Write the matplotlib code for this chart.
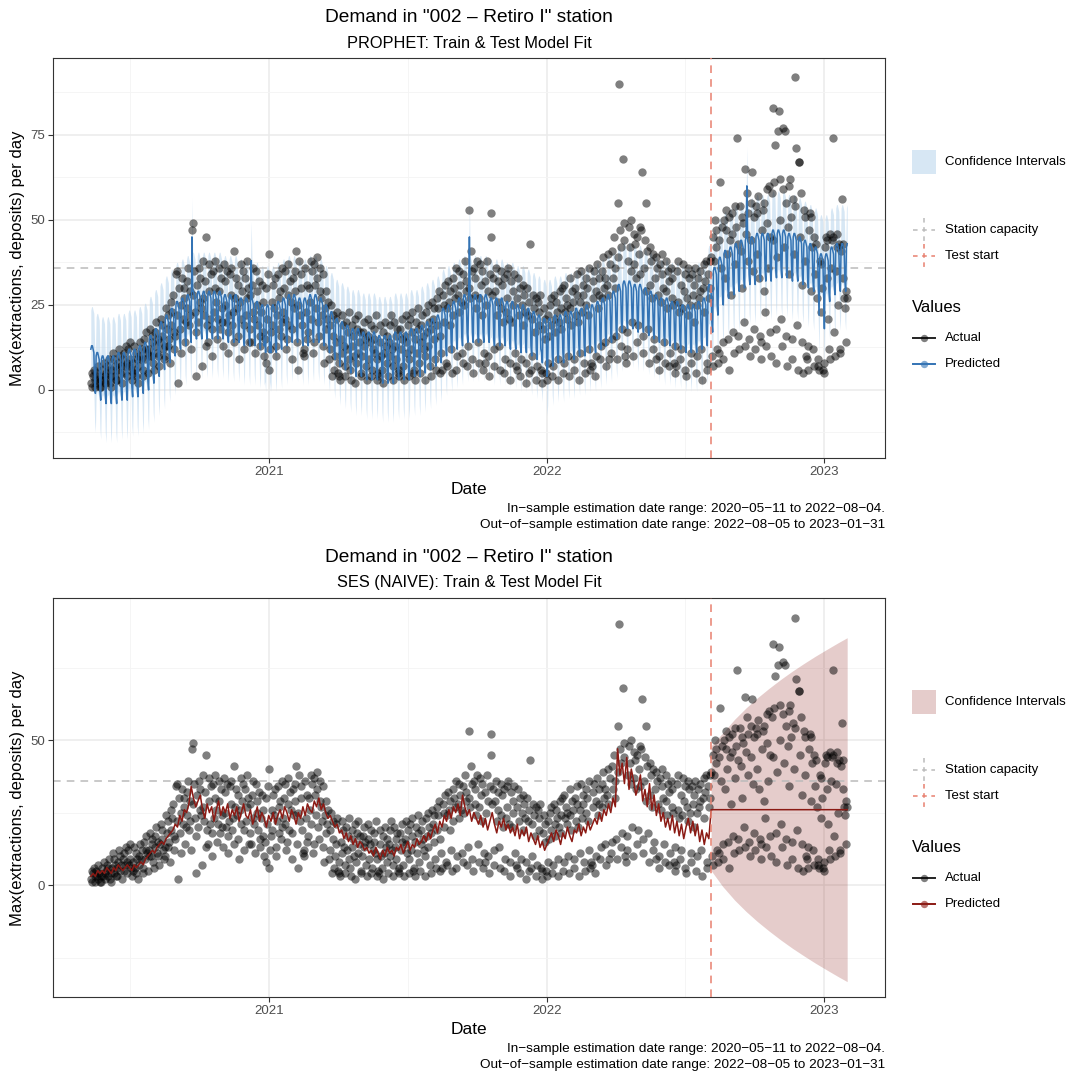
import numpy as np
import pandas as pd
import matplotlib
matplotlib.use("Agg")
import matplotlib.pyplot as plt
import matplotlib.dates as mdates
from matplotlib.patches import Rectangle

plt.rcParams['font.family'] = ['Liberation Sans', 'DejaVu Sans']

# ---------------- data ----------------
START = "2020-05-11"
END = "2023-01-31"
TEST_START = "2022-08-05"
STATION_CAPACITY = 36

# daily actual demand, weeks Mon..Sun starting 2020-05-11
actual_2020 = [
    2, 5, 1, 4, 6, 3, 1,
    5, 3, 7, 2, 4, 1, 3,
    1, 6, 3, 8, 4, 2, 5,
    7, 3, 6, 9, 2, 4, 1,
    6, 11, 4, 9, 7, 3, 6,
    3, 8, 12, 5, 10, 7, 2,
    9, 5, 11, 7, 13, 4, 8,
    12, 7, 9, 14, 6, 3, 5,
    8, 13, 6, 4, 11, 9, 2,
    10, 7, 14, 9, 12, 6, 4,
    15, 9, 12, 17, 11, 5, 10,
    12, 18, 10, 14, 16, 8, 6,
    17, 13, 20, 11, 15, 10, 7,
    14, 21, 16, 19, 12, 9, 13,
    10, 24, 18, 13, 22, 15, 8,
    26, 19, 23, 28, 17, 12, 16,
    34, 22, 35, 2, 30, 18, 11,
    25, 33, 21, 30, 27, 14, 20,
    32, 24, 36, 19, 29, 22, 12,
    47, 49, 28, 35, 23, 17, 4,
    31, 20, 36, 26, 33, 24, 7,
    27, 38, 22, 32, 45, 13, 19,
    14, 29, 37, 21, 34, 18, 10,
    35, 23, 30, 38, 26, 15, 21,
    29, 36, 18, 33, 24, 20, 13,
    37, 25, 32, 20, 35, 11, 17,
    22, 34, 28, 36, 19, 23, 14,
    41, 27, 33, 24, 31, 16, 9,
    26, 37, 21, 29, 35, 19, 12,
    33, 22, 38, 27, 30, 14, 18,
    28, 14, 31, 36, 23, 21, 11,
    35, 25, 29, 19, 32, 13, 16,
    23, 31, 26, 17, 10, 15, 8,
    30, 21, 34, 40, 6, 12, 17,
]
actual_2021 = [
    26, 19, 31, 24, 33, 13, 10,
    22, 34, 27, 18, 29, 16, 20,
    36, 23, 30, 35, 21, 12, 15,
    28, 37, 19, 32, 26, 18, 9,
    33, 24, 35, 29, 41, 14, 6,
    25, 38, 22, 34, 30, 19, 11,
    12, 10, 36, 23, 31, 15, 17,
    30, 26, 38, 21, 35, 11, 14,
    37, 31, 24, 33, 39, 20, 16,
    29, 36, 27, 22, 34, 13, 8,
    24, 18, 29, 21, 26, 9, 12,
    19, 25, 4, 16, 22, 6, 10,
    21, 14, 23, 5, 4, 8, 3,
    15, 22, 11, 19, 13, 4, 7,
    20, 12, 17, 23, 9, 6, 3,
    13, 19, 16, 10, 21, 2, 8,
    18, 11, 22, 14, 17, 5, 4,
    10, 17, 13, 20, 15, 7, 3,
    16, 21, 9, 14, 19, 4, 6,
    12, 15, 18, 11, 22, 3, 9,
    5, 4, 14, 19, 10, 6, 2,
    17, 11, 20, 13, 16, 8, 4,
    14, 19, 10, 22, 12, 3, 7,
    20, 13, 16, 9, 18, 5, 6,
    4, 18, 12, 21, 15, 7, 3,
    16, 22, 14, 11, 19, 4, 9,
    21, 12, 17, 23, 5, 6, 3,
    15, 20, 11, 18, 24, 8, 5,
    19, 14, 22, 16, 12, 3, 10,
    23, 17, 13, 25, 20, 7, 4,
    18, 26, 21, 15, 24, 9, 6,
    27, 19, 24, 29, 16, 5, 11,
    6, 28, 20, 25, 31, 8, 7,
    24, 32, 26, 19, 29, 12, 5,
    33, 22, 30, 27, 36, 6, 10,
    28, 35, 23, 31, 26, 11, 8,
    34, 25, 38, 29, 32, 7, 13,
    30, 53, 27, 41, 35, 9, 5,
    36, 28, 33, 24, 38, 14, 8,
    27, 37, 31, 35, 22, 6, 11,
    8, 32, 25, 38, 29, 10, 4,
    34, 52, 45, 28, 33, 7, 12,
    29, 36, 22, 32, 26, 13, 6,
    35, 24, 31, 20, 33, 5, 9,
    23, 34, 27, 36, 21, 8, 3,
    32, 20, 29, 25, 34, 11, 7,
    6, 27, 33, 22, 30, 4, 9,
    25, 31, 19, 28, 23, 8, 2,
    30, 22, 5, 26, 43, 6, 10,
    21, 28, 24, 17, 27, 3, 7,
    26, 19, 23, 28, 6, 5, 2,
    18, 24, 15, 21, 5, 3, 8,
]
actual_2022 = [
    22, 16, 25, 19, 27, 4, 7,
    28, 21, 17, 26, 23, 9, 3,
    20, 29, 24, 18, 30, 5, 8,
    31, 23, 27, 21, 25, 10, 4,
    24, 33, 19, 29, 26, 6, 9,
    30, 22, 28, 34, 20, 3, 11,
    26, 35, 23, 31, 28, 8, 5,
    33, 25, 30, 22, 36, 12, 6,
    8, 7, 32, 27, 35, 4, 10,
    29, 37, 24, 33, 28, 9, 13,
    35, 27, 39, 30, 33, 14, 7,
    31, 40, 28, 9, 37, 11, 15,
    41, 33, 45, 36, 30, 16, 9,
    55, 39, 90, 47, 42, 13, 18,
    68, 44, 49, 10, 8, 17, 12,
    38, 48, 42, 50, 35, 20, 10,
    46, 37, 43, 33, 45, 14, 19,
    40, 48, 34, 47, 64, 11, 16,
    36, 44, 29, 55, 41, 18, 8,
    42, 31, 38, 27, 40, 12, 15,
    33, 39, 9, 36, 28, 10, 6,
    37, 26, 34, 40, 30, 14, 8,
    29, 38, 24, 35, 32, 7, 11,
    36, 27, 33, 25, 8, 13, 5,
    7, 35, 26, 38, 23, 9, 12,
    31, 24, 37, 29, 34, 6, 4,
    27, 36, 22, 33, 25, 11, 8,
    34, 28, 31, 20, 36, 5, 10,
    25, 33, 27, 35, 29, 12, 3,
    30, 37, 23, 32, 38, 8, 6,
    34, 27, 38, 30, 39, 10, 7,
    45, 38, 50, 42, 47, 12, 8,
    11, 44, 61, 36, 48, 14, 9,
    50, 33, 47, 53, 40, 15, 6,
    51, 44, 28, 52, 46, 17, 11,
    37, 54, 48, 74, 43, 16, 12,
    54, 41, 51, 30, 49, 20, 13,
    65, 46, 58, 52, 38, 15, 10,
    44, 55, 64, 35, 51, 18, 12,
    54, 40, 52, 57, 33, 16, 9,
    14, 47, 53, 29, 55, 23, 13,
    49, 59, 36, 60, 45, 17, 10,
    58, 83, 44, 61, 72, 18, 8,
    39, 76, 82, 50, 62, 21, 13,
    59, 77, 42, 76, 55, 16, 7,
    48, 60, 34, 62, 51, 15, 9,
    56, 40, 54, 92, 71, 19, 6,
    67, 67, 45, 58, 31, 14, 5,
    53, 38, 51, 10, 9, 13, 6,
    47, 52, 29, 51, 42, 12, 7,
    45, 34, 43, 27, 9, 7, 6,
    38, 23, 37, 30, 6, 5, 8,
]
actual_2023 = [
    42, 45, 33, 44, 21, 12, 9,
    46, 36, 44, 74, 45, 17, 10,
    35, 46, 42, 25, 43, 12, 11,
    41, 56, 33, 43, 27, 24, 14,
    29, 27,
]

# PROPHET fit: weekly trend level, day-of-week effect (Mon..Sun), holiday effects
prophet_weekly_level = [
    11, 9, 8, 8, 8, 9, 9, 10, 10,
    11, 12, 14, 16, 18, 20,
    22, 24, 25, 26, 27,
    27, 27, 27, 27, 27, 26, 26, 26, 25, 25, 25, 24, 23, 23,
    23, 24, 25, 26, 26, 25, 25, 26, 26, 25,
    23, 21, 19, 18, 17, 16, 16,
    15, 15, 15, 14, 14, 14, 15, 15, 15, 16, 16, 17,
    18, 19, 20, 22, 23, 24, 25, 26,
    26, 26, 26, 26, 25, 25, 25, 24, 24, 23, 23, 22, 21, 20, 19,
    19, 20, 20, 21, 21, 22, 22, 23, 23, 24, 25, 26, 27,
    29, 30, 30, 29, 29,
    28, 27, 26, 25, 25, 24, 24, 23, 23, 23, 24, 25,
    29, 34, 37, 39, 40, 41, 42, 43, 43, 44, 44, 44, 45, 45, 45, 44,
    44, 43, 42, 41, 40, 38, 38, 40, 41, 41, 41,
]
prophet_dow_effect = [1, 2, 2, 1, 0, -9, -12]
prophet_holiday_dates = ["2020-09-21", "2020-12-08", "2020-12-25", "2021-01-01",
                         "2021-09-21", "2021-12-24", "2022-01-01", "2022-09-21",
                         "2022-12-25", "2023-01-01"]
prophet_holiday_effect = [17, 11, -10, -12, 17, -8, -6, 15, -6, -8]
prophet_ci_half = 11.5

# SES (naive) in-sample fit, every 3rd day from 2020-05-11
ses_fit = [
    3, 4, 3, 5, 4, 5, 4, 6, 5, 4, 6, 5, 7, 6, 5, 6, 7, 6, 5, 7, 6,
    7, 8, 7, 9, 10, 11, 12, 11, 13, 14, 15, 14, 16, 17, 18,
    19, 21, 20, 24, 22, 26, 25, 28, 34, 30, 27, 29, 31,
    26, 23, 28, 25, 27, 22, 26, 29, 24, 27, 25, 28, 23, 26, 24, 27, 22, 25, 28, 24,
    23, 26, 21, 24, 27, 22, 25, 23, 20, 24,
    22, 25, 21, 24, 26, 23, 27, 25, 22, 26, 24, 21, 25, 23, 27, 24, 28, 26, 25, 29,
    27, 30, 26, 28, 25, 23, 24,
    22, 20, 21, 18, 19, 16, 18, 15, 17, 14, 16, 13, 15, 14, 12,
    13, 11, 12, 10, 13, 11, 9, 12, 10, 13, 11, 12, 10, 13, 12, 14, 11, 13, 15, 12,
    14, 13, 16, 14, 15,
    17, 15, 18, 16, 19, 21, 18, 22, 20, 24, 22, 26, 23, 27, 25, 28, 24, 31,
    27, 24, 26, 22, 25, 23, 21, 24, 20, 23, 19, 22, 25, 21, 18, 22, 20, 23, 19,
    21, 18, 20, 17, 21, 16, 19, 17, 20, 15, 18, 16, 14, 17, 13, 15, 12, 14,
    16, 18, 15, 19, 17, 14, 18, 16, 20, 17, 15, 19, 18, 21, 17, 20, 18, 22, 19, 21,
    23, 21, 25, 22, 26, 24, 28, 25, 30, 27,
    47, 38, 42, 35, 44, 33, 40, 36, 31, 34,
    38, 29, 33, 27, 35, 26, 31, 24, 28, 22,
    25, 20, 23, 19, 24, 18, 22, 17, 21, 16, 20, 23, 18, 22, 17, 21, 15, 19, 14, 18, 16,
]
ses_forecast = 26
ses_ci_dates = ["2022-08-05", "2022-08-20", "2022-09-05", "2022-09-20", "2022-10-05",
                "2022-10-20", "2022-11-05", "2022-11-20", "2022-12-05", "2022-12-20",
                "2023-01-05", "2023-01-20", "2023-01-31"]
ses_ci_upper = [48, 52.4, 57.2, 61.1, 64.6, 67.8, 71.0, 73.8, 76.4, 78.9, 81.4, 83.7, 85.3]
ses_ci_lower = [5, -0.4, -5.2, -9.1, -12.6, -15.8, -19.0, -21.8, -24.4, -26.9, -29.4, -31.7, -33.3]

# ---------------- derived series ----------------
actual = actual_2020 + actual_2021 + actual_2022 + actual_2023
dates = pd.date_range(START, periods=len(actual), freq="D")
wk = np.arange(len(actual)) // 7
pred = np.array(prophet_weekly_level, float)[wk] + np.array(prophet_dow_effect, float)[dates.dayofweek]
hol = pd.Series(0.0, index=dates)
for hd, he in zip(prophet_holiday_dates, prophet_holiday_effect):
    hol[pd.Timestamp(hd)] += he
pred = pred + hol.values

ses_dates = pd.date_range(START, periods=len(ses_fit), freq="3D")
ses_line_x = list(ses_dates) + [pd.Timestamp(TEST_START), pd.Timestamp(END)]
ses_line_y = list(ses_fit) + [ses_forecast, ses_forecast]
ci_d = pd.to_datetime(ses_ci_dates)

# ---------------- figure ----------------
W, H = 1070, 1074
fig = plt.figure(figsize=(W / 100, H / 100), dpi=100)

def rect(l, t, r, b):
    return [l / W, 1 - b / H, (r - l) / W, (b - t) / H]

span = (pd.Timestamp(END) - pd.Timestamp(START)) * 0.05
xmin = mdates.date2num(pd.Timestamp(START) - span)
xmax = mdates.date2num(pd.Timestamp(END) + span)
year_ticks = [mdates.date2num(pd.Timestamp(y)) for y in ["2021-01-01", "2022-01-01", "2023-01-01"]]
minor_x = [mdates.date2num(pd.Timestamp(y)) for y in ["2020-07-02", "2021-07-02", "2022-07-02"]]

GRID_MAJ = '#EBEBEB'
GRID_MIN = '#F4F4F4'

def setup(ax, ylim, ymaj, ymin):
    ax.set_xlim(xmin, xmax)
    ax.set_ylim(*ylim)
    ax.set_xticks(year_ticks)
    ax.set_xticklabels(["2021", "2022", "2023"])
    ax.set_xticks(minor_x, minor=True)
    ax.set_yticks(ymaj)
    ax.set_yticklabels([str(v) for v in ymaj])
    ax.set_yticks(ymin, minor=True)
    ax.grid(which='major', color=GRID_MAJ, lw=1.1)
    ax.grid(which='minor', color=GRID_MIN, lw=0.6)
    ax.set_axisbelow(True)
    ax.tick_params(which='major', length=3.6, width=0.8, color='#333333',
                   labelcolor='#4D4D4D', labelsize=9.5, pad=2)
    ax.tick_params(which='minor', length=0)
    for s in ax.spines.values():
        s.set_color('#333333')
        s.set_linewidth(0.8)

BLUE = '#3373B4'
RED = '#8B1A14'
TEST_C = '#E8806F'
CAP_C = '#BBBBBB'
PT_S = 36

# ---- top panel: PROPHET ----
ax1 = fig.add_axes(rect(53, 58, 885, 458))
setup(ax1, (-20, 97.6), [0, 25, 50, 75], [-12.5, 12.5, 37.5, 62.5, 87.5])
ax1.fill_between(dates, pred - prophet_ci_half, pred + prophet_ci_half,
                 color='#BDD7EE', alpha=0.6, lw=0, zorder=1)
ax1.axhline(STATION_CAPACITY, color=CAP_C, lw=1.1, dashes=(5, 4), zorder=2)
ax1.scatter(dates, actual, s=PT_S, color='black', alpha=0.5, lw=0, zorder=3)
ax1.plot(dates, pred, color=BLUE, lw=1.1, zorder=4)
ax1.axvline(pd.Timestamp(TEST_START), color=TEST_C, lw=1.1, dashes=(5, 4), zorder=5)

# ---- bottom panel: SES ----
ax2 = fig.add_axes(rect(53, 598, 885, 997))
setup(ax2, (-38.6, 99), [0, 50], [-25, 25, 75])
ax2.fill_between(ci_d, ses_ci_lower, ses_ci_upper, color=RED, alpha=0.22, lw=0, zorder=1)
ax2.axhline(STATION_CAPACITY, color=CAP_C, lw=1.1, dashes=(5, 4), zorder=2)
ax2.scatter(dates, actual, s=PT_S, color='black', alpha=0.5, lw=0, zorder=3)
ax2.plot(ses_line_x, ses_line_y, color=RED, lw=1.1, zorder=4)
ax2.axvline(pd.Timestamp(TEST_START), color=TEST_C, lw=1.1, dashes=(5, 4), zorder=5)

# ---- overlay for text & legend (pixel coords) ----
ov = fig.add_axes([0, 0, 1, 1], zorder=10)
ov.set_xlim(0, W)
ov.set_ylim(H, 0)
ov.axis('off')
ov.patch.set_alpha(0)

TITLE = 'Demand in "002 \u2013 Retiro I" station'
CAP1 = 'In\u2212sample estimation date range: 2020\u221205\u221211 to 2022\u221208\u221204.'
CAP2 = 'Out\u2212of\u2212sample estimation date range: 2022\u221208\u221205 to 2023\u221201\u221231'
YLAB = 'Max(extractions, deposits) per day'

def texts(off, subtitle):
    ov.text(469, 18 + off, TITLE, ha='center', va='center', fontsize=13.8, color='black')
    ov.text(469, 43 + off, subtitle, ha='center', va='center', fontsize=11.8, color='black')
    ov.text(469, 490 + off, 'Date', ha='center', va='center', fontsize=12.5, color='black')
    ov.text(18, 258 + off, YLAB, ha='center', va='center', rotation=90, fontsize=12, color='black')
    ov.text(885, 509 + off, CAP1, ha='right', va='center', fontsize=9.7, color='black')
    ov.text(885, 525 + off, CAP2, ha='right', va='center', fontsize=9.7, color='black')

def legend(off, ci_color, ci_alpha, pred_color):
    ov.add_patch(Rectangle((912, 150 + off), 24, 24, facecolor=ci_color, alpha=ci_alpha, lw=0))
    ov.text(945, 162 + off, 'Confidence Intervals', va='center', fontsize=9.5)
    for yy, c, lab in [(230, CAP_C, 'Station capacity'), (256, TEST_C, 'Test start')]:
        ov.plot([913, 935], [yy + off, yy + off], color=c, lw=1.1, dashes=(3, 3))
        ov.plot([924, 924], [yy - 12 + off, yy + 12 + off], color=c, lw=1.1, dashes=(3, 3))
        ov.text(945, yy + off, lab, va='center', fontsize=9.5)
    ov.text(912, 308 + off, 'Values', va='center', fontsize=12)
    ov.plot([913, 935], [338 + off, 338 + off], color='#222222', lw=1.4)
    ov.scatter([924], [338 + off], s=28, color='black', alpha=0.5, lw=0, zorder=3)
    ov.text(945, 338 + off, 'Actual', va='center', fontsize=9.5)
    ov.plot([913, 935], [364 + off, 364 + off], color=pred_color, lw=1.4)
    ov.scatter([924], [364 + off], s=28, color=pred_color, alpha=0.6, lw=0, zorder=3)
    ov.text(945, 364 + off, 'Predicted', va='center', fontsize=9.5)

texts(0, 'PROPHET: Train & Test Model Fit')
texts(540, 'SES (NAIVE): Train & Test Model Fit')
legend(0, '#BDD7EE', 0.6, BLUE)
legend(540, RED, 0.22, RED)

fig.savefig('out.png', dpi=100)
